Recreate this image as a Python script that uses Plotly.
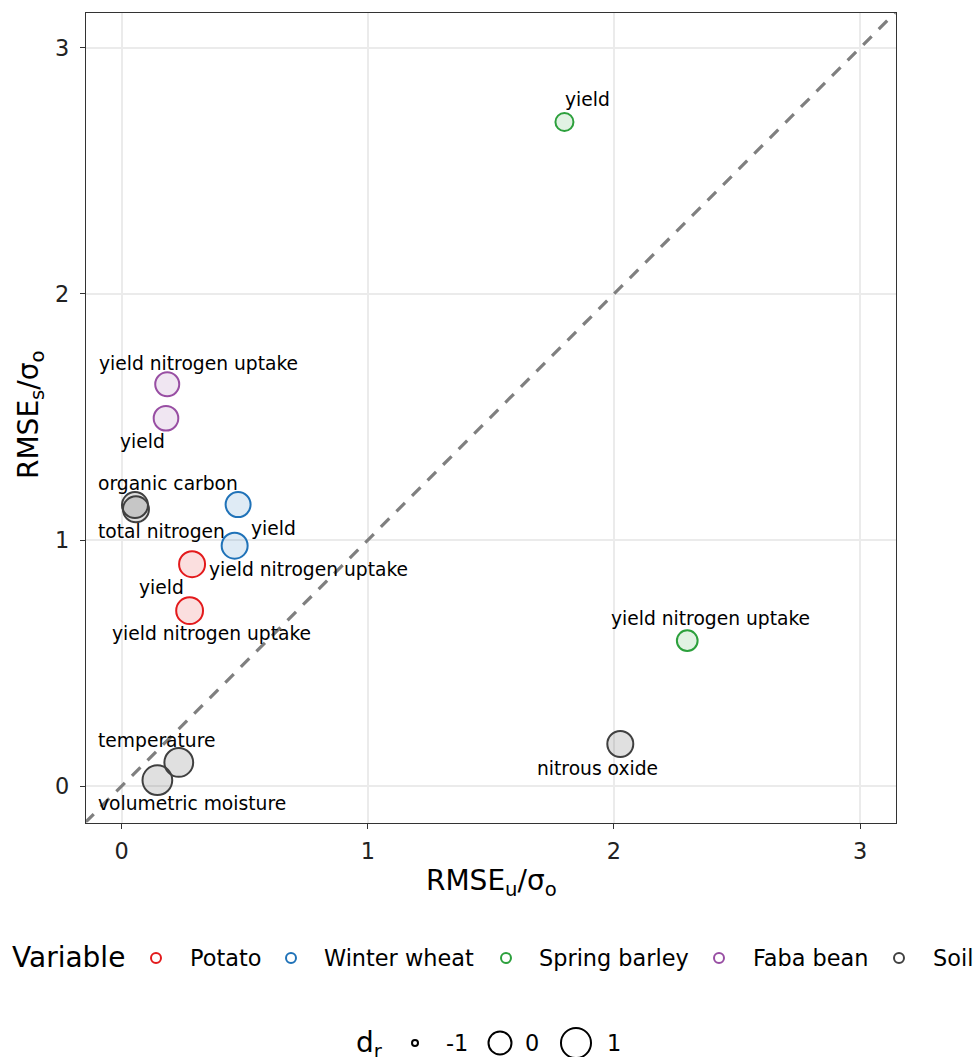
import numpy as np
import plotly.graph_objects as go

# ---------------- data ----------------
variable = ["Potato", "Potato", "Winter wheat", "Winter wheat",
            "Spring barley", "Spring barley", "Faba bean", "Faba bean",
            "Soil", "Soil", "Soil", "Soil", "Soil"]
label = ["yield", "yield nitrogen uptake", "yield", "yield nitrogen uptake",
         "yield", "yield nitrogen uptake", "yield", "yield nitrogen uptake",
         "organic carbon", "total nitrogen", "temperature",
         "volumetric moisture", "nitrous oxide"]
rmse_u = [0.286, 0.276, 0.473, 0.459, 1.799, 2.298, 0.180, 0.185,
          0.054, 0.058, 0.232, 0.145, 2.026]
rmse_s = [0.902, 0.713, 1.144, 0.977, 2.699, 0.591, 1.495, 1.633,
          1.142, 1.125, 0.096, 0.024, 0.171]
d_r = [0.38, 0.50, 0.25, 0.38, -0.50, -0.25, 0.20, 0.12,
       0.38, 0.38, 0.80, 0.95, 0.38]

groups = ["Potato", "Winter wheat", "Spring barley", "Faba bean", "Soil"]
size_breaks = [-1, 0, 1]
x_ticks = [0, 1, 2, 3]
y_ticks = [0, 1, 2, 3]

# ---------------- styles ----------------
colors = {"Potato": (227, 26, 28), "Winter wheat": (31, 114, 184),
          "Spring barley": (44, 160, 60), "Faba bean": (152, 78, 163),
          "Soil": (64, 64, 64)}
# label offsets (pixels) for repelled text
label_shift = [(-31, -23), (22, -23), (35, -24), (74, -24),
               (23, 22), (23, 22), (-23, -23), (31, 21),
               (33, 22), (26, -22), (-22, 22), (35, -23), (-23, -24)]

FONT = "DejaVu Sans"
W, H = 973, 1057
LW = 2


def diam(v):
    return 8 + 17 * np.sqrt(np.asarray(v, dtype=float) + 1)


def rgb(c, a=1.0):
    return "rgba(%d,%d,%d,%.3f)" % (c[0], c[1], c[2], a)


xr = [-0.145, 3.145]
yr = [-0.148, 3.144]

fig = go.Figure()

# y = x reference line
fig.add_shape(type="line", xref="x", yref="y",
              x0=min(xr[0], yr[0]), y0=min(xr[0], yr[0]),
              x1=max(xr[1], yr[1]), y1=max(xr[1], yr[1]),
              line=dict(color="#7f7f7f", width=3.2, dash="12px,10px"),
              layer="between")

for g in groups:
    idx = [i for i, v in enumerate(variable) if v == g]
    c = colors[g]
    fig.add_trace(go.Scatter(
        x=[rmse_u[i] for i in idx], y=[rmse_s[i] for i in idx],
        mode="markers", showlegend=False, cliponaxis=False,
        marker=dict(size=list(diam([d_r[i] for i in idx]) - LW),
                    opacity=1,
                    color=rgb(c, 0.14 if g != "Soil" else 0.16),
                    line=dict(color=rgb(c), width=LW)),
        xaxis="x", yaxis="y"))

for i, t in enumerate(label):
    fig.add_annotation(x=rmse_u[i], y=rmse_s[i], xref="x", yref="y",
                       text=t, showarrow=False,
                       xshift=label_shift[i][0], yshift=label_shift[i][1],
                       font=dict(family=FONT, size=18.7, color="#000000"))

# ---------------- legends on a pixel helper axis ----------------
leg_y = 958
leg_circ_x = [156, 291, 506, 719, 899]
leg_text_x = [188, 322, 537, 751, 931]
fig.add_trace(go.Scatter(
    x=leg_circ_x, y=[leg_y] * len(groups), mode="markers",
    showlegend=False, cliponaxis=False, xaxis="x2", yaxis="y2",
    marker=dict(size=10, opacity=1, color="rgba(255,255,255,0)",
                line=dict(color=[rgb(colors[g]) for g in groups], width=2))))
fig.add_annotation(x=10, y=leg_y, xref="x2", yref="y2", text="Variable",
                   showarrow=False, xanchor="left", yanchor="middle",
                   font=dict(family=FONT, size=28, color="#000000"))
for g, tx in zip(groups, leg_text_x):
    fig.add_annotation(x=tx, y=leg_y, xref="x2", yref="y2", text=g,
                       showarrow=False, xanchor="left", yanchor="middle",
                       font=dict(family=FONT, size=22.4, color="#000000"))

sz_y = 1043
sz_circ_x = [415, 500, 576]
sz_text_x = [457, 532, 614]
fig.add_trace(go.Scatter(
    x=sz_circ_x, y=[sz_y] * 3, mode="markers", showlegend=False,
    cliponaxis=False, xaxis="x2", yaxis="y2",
    marker=dict(size=list(diam(size_breaks) - 2), opacity=1,
                color="rgba(255,255,255,0)",
                line=dict(color="#000000", width=2))))
fig.add_annotation(x=385, y=sz_y + 1, xref="x2", yref="y2",
                   text="d<sub>r</sub>", showarrow=False,
                   xanchor="right", yanchor="middle",
                   font=dict(family=FONT, size=28, color="#000000"))
for b, tx in zip(size_breaks, sz_text_x):
    fig.add_annotation(x=tx, y=sz_y, xref="x2", yref="y2", text=str(b),
                       showarrow=False, xanchor="center", yanchor="middle",
                       font=dict(family=FONT, size=22.4, color="#000000"))

# axis titles
fig.add_annotation(x=491 / W, y=1 - 882 / H, xref="paper", yref="paper",
                   text="RMSE<sub>u</sub>/σ<sub>o</sub>", showarrow=False,
                   xanchor="center", yanchor="middle",
                   font=dict(family=FONT, size=28, color="#000000"))
fig.add_annotation(x=31 / W, y=1 - 415 / H, xref="paper", yref="paper",
                   text="RMSE<sub>s</sub>/σ<sub>o</sub>", showarrow=False,
                   textangle=-90, xanchor="center", yanchor="middle",
                   font=dict(family=FONT, size=28, color="#000000"))

axis_common = dict(showline=True, mirror=True, linecolor="#333333",
                   linewidth=1.3, ticks="outside", ticklen=5, tickwidth=1.3,
                   tickcolor="#333333", showgrid=True, gridcolor="#ebebeb",
                   gridwidth=2, zeroline=False,
                   tickfont=dict(family=FONT, size=22.4, color="#222222"))

fig.update_layout(
    width=W, height=H, margin=dict(l=0, r=0, t=0, b=0),
    paper_bgcolor="white", plot_bgcolor="white", showlegend=False,
    xaxis=dict(domain=[86 / W, 895.7 / W], range=xr, tickvals=x_ticks,
               ticklabelstandoff=3, anchor="y", **axis_common),
    yaxis=dict(domain=[1 - 822.5 / H, 1 - 12.5 / H], range=yr,
               tickvals=y_ticks, ticklabelstandoff=6, anchor="x",
               **axis_common),
    xaxis2=dict(domain=[0, 1], range=[0, W], visible=False, anchor="y2",
                fixedrange=True),
    yaxis2=dict(domain=[0, 130 / H], range=[H, H - 130], visible=False,
                anchor="x2", fixedrange=True),
)

fig.write_html("out.html")
